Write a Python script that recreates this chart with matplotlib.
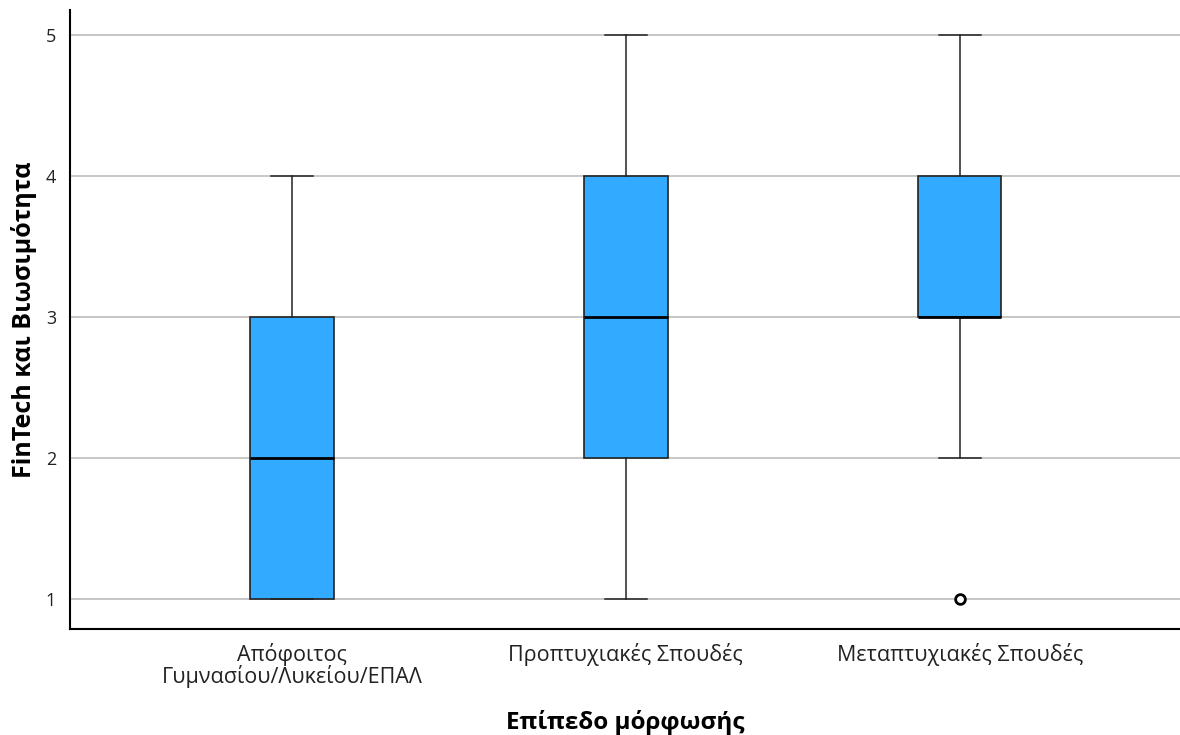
import matplotlib
matplotlib.use("Agg")
import matplotlib.pyplot as plt

plt.rcParams['font.family'] = ['Open Sans', 'DejaVu Sans']

categories = ["Απόφοιτος\nΓυμνασίου/Λυκείου/ΕΠΑΛ",
              "Προπτυχιακές Σπουδές",
              "Μεταπτυχιακές Σπουδές"]
whisker_low = [1, 1, 2]
q1 = [1, 2, 3]
medians = [2, 3, 3]
q3 = [3, 4, 4]
whisker_high = [4, 5, 5]
outliers = [[], [], [1]]

stats = []
for i, name in enumerate(categories):
    stats.append({
        'label': name,
        'whislo': whisker_low[i],
        'q1': q1[i],
        'med': medians[i],
        'q3': q3[i],
        'whishi': whisker_high[i],
        'fliers': outliers[i],
    })

fig = plt.figure(figsize=(11.8, 7.35), dpi=100)
ax = fig.add_axes([70 / 1180, (735 - 629) / 735, 1110 / 1180, (629 - 10) / 735])

ax.bxp(stats, positions=[1, 2, 3], widths=0.25, patch_artist=True,
       boxprops=dict(facecolor='#32aaff', edgecolor='#222222', linewidth=1.2),
       medianprops=dict(color='black', linewidth=2),
       whiskerprops=dict(color='#222222', linewidth=1.1),
       capprops=dict(color='#222222', linewidth=1.1),
       capwidths=0.126,
       flierprops=dict(marker='o', markerfacecolor='white', markeredgecolor='black',
                       markersize=7, markeredgewidth=2),
       zorder=3)

ax.set_xlim(0.335, 3.66)
ax.set_ylim(0.787, 5.177)
ax.set_yticks([1, 2, 3, 4, 5])
ax.yaxis.grid(True, color='#b8b8b8', linewidth=1.1, zorder=0)
ax.set_axisbelow(True)
ax.tick_params(axis='both', length=0, labelsize=13, colors='#222222')
ax.tick_params(axis='y', pad=10)
ax.tick_params(axis='x', pad=10)
for lab in ax.get_xticklabels():
    lab.set_fontsize(15.5)
    lab.set_linespacing(0.95)

ax.spines['top'].set_visible(False)
ax.spines['right'].set_visible(False)
ax.spines['left'].set_linewidth(1.5)
ax.spines['bottom'].set_linewidth(1.5)

ax.set_ylabel("FinTech και Βιωσιμότητα", fontsize=18, fontweight='bold', labelpad=6)
ax.set_xlabel("Επίπεδο μόρφωσής", fontsize=17.5, fontweight='bold', labelpad=16)

fig.savefig("out.png", dpi=100)
